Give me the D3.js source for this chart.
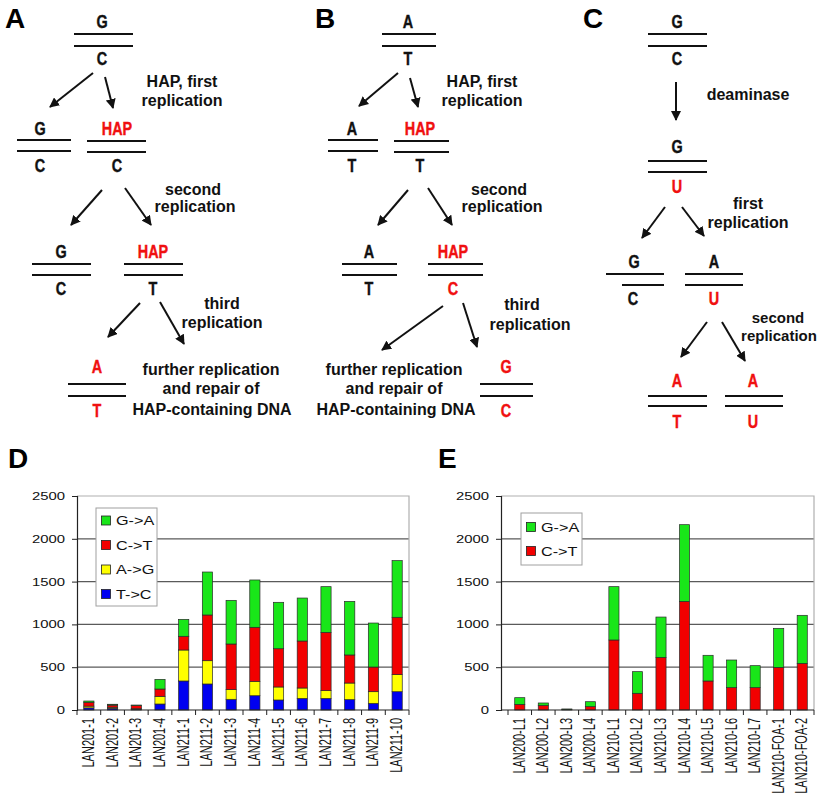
<!DOCTYPE html>
<html>
<head>
<meta charset="utf-8">
<script src="https://d3js.org/d3.v7.min.js"></script>
<style>
  body { margin: 0; background: #fff; }
  svg { display: block; font-family: "Liberation Sans", Arial, sans-serif; }
</style>
</head>
<body>
<svg id="fig" width="825" height="800"></svg>
<script>
// ---------------- DATA ----------------
const catsD = ["LAN201-1","LAN201-2","LAN201-3","LAN201-4","LAN211-1","LAN211-2","LAN211-3",
               "LAN211-4","LAN211-5","LAN211-6","LAN211-7","LAN211-8","LAN211-9","LAN211-10"];
const dTC = [25, 20, 10, 70, 339, 304, 125, 167, 117, 136, 136, 121, 78, 214];   // T->C
const dAG = [20, 12, 5, 90, 362, 272, 113, 168, 152, 121, 90, 194, 136, 199];    // A->G
const dCT = [45, 25, 38, 85, 160, 534, 533, 631, 447, 549, 681, 328, 288, 670];  // C->T
const dGA = [15, 10, 5, 113, 198, 502, 510, 553, 542, 502, 534, 626, 514, 662];  // G->A

const catsE = ["LAN200-L1","LAN200-L2","LAN200-L3","LAN200-L4","LAN210-L1","LAN210-L2","LAN210-L3",
               "LAN210-L4","LAN210-L5","LAN210-L6","LAN210-L7","LAN210-FOA-1","LAN210-FOA-2"];
const eCT = [66, 55, 8, 39, 818, 195, 615, 1269, 339, 261, 261, 498, 545];       // C->T
const eGA = [78, 27, 4, 58, 623, 253, 471, 896, 300, 323, 257, 456, 561];        // G->A

const yTicks = [0, 500, 1000, 1500, 2000, 2500];
const seriesD = ["T->C", "A->G", "C->T", "G->A"];
const seriesE = ["C->T", "G->A"];
const colors = {"G->A": "#19e619", "C->T": "#f20000", "A->G": "#ffff00", "T->C": "#0000f0"};

// ---------------- HELPERS ----------------
const svg = d3.select("#fig");
svg.append("rect").attr("width", 825).attr("height", 800).attr("fill", "#fff");

const defs = svg.append("defs");
defs.append("marker").attr("id", "arr").attr("viewBox", "0 0 10 10")
  .attr("refX", 9).attr("refY", 5).attr("markerWidth", 5).attr("markerHeight", 5)
  .attr("orient", "auto")
  .append("path").attr("d", "M0,0 L10,5 L0,10 Z").attr("fill", "#111");

function txt(g, x, y, s, o = {}) {
  const t = g.append("text")
    .attr("transform", `translate(${x},${y}) scale(${o.sx || 1},1)`)
    .attr("text-anchor", o.anchor || "middle")
    .attr("font-size", o.size || 16)
    .attr("font-weight", o.weight || "bold")
    .attr("fill", o.fill || "#111")
    .text(s);
  if (o.heavy) t.attr("stroke", o.fill || "#111").attr("stroke-width", o.heavy);
  return t;
}

// ---------------- DIAGRAMS (A, B, C) ----------------
const dg = svg.append("g");
const RED = "#f01010";
const letter = (x, y, s, red) => txt(dg, x, y, s, {size: 18, sx: 0.8, heavy: 0.4, fill: red ? RED : "#111"});
const label = (x, y, s, sz) => txt(dg, x, y, s, {size: sz || 16});
const panel = (x, y, s) => txt(svg, x, y, s, {size: 28, anchor: "start", fill: "#000"});
const hline = (x1, x2, y) => dg.append("line").attr("x1", x1).attr("x2", x2).attr("y1", y).attr("y2", y)
  .attr("stroke", "#111").attr("stroke-width", 2);
const arrow = (x1, y1, x2, y2) => dg.append("line").attr("x1", x1).attr("y1", y1).attr("x2", x2).attr("y2", y2)
  .attr("stroke", "#111").attr("stroke-width", 2).attr("marker-end", "url(#arr)");
function pair(cx, x1, x2, top, bot, yTop, ly1, ly2, yBot, redTop, redBot) {
  letter(cx, yTop, top, redTop);
  hline(x1, x2, ly1); hline(x1, x2, ly2);
  letter(cx, yBot, bot, redBot);
}

// Panel A
panel(5, 28, "A");
pair(102, 74, 133, "G", "C", 28, 34, 46, 65);
arrow(93, 73, 50, 107); arrow(105, 77, 113, 108);
label(182, 87, "HAP, first"); label(182, 106, "replication");
pair(40, 17, 71, "G", "C", 135, 140, 151, 172);
pair(117, 87, 146, "HAP", "C", 135, 141, 152, 172, true, false);
arrow(102, 190, 71, 225); arrow(125, 188, 151, 225);
label(193, 195, "second"); label(195, 212, "replication");
pair(61, 32, 91, "G", "C", 258, 264, 275, 295);
pair(153, 124, 183, "HAP", "T", 258, 264, 275, 295, true, false);
arrow(140, 303, 108, 337); arrow(160, 302, 184, 344);
label(222, 309, "third"); label(222, 328, "replication");
pair(97, 68, 126, "A", "T", 373, 384, 396, 417, true, true);
label(211, 375, "further replication"); label(211, 394, "and repair of"); label(212, 415, "HAP-containing DNA");

// Panel B
panel(315, 28, "B");
pair(408, 382, 436, "A", "T", 28, 34, 46, 65);
arrow(398, 73, 359, 106); arrow(410, 78, 418, 107);
label(482, 87, "HAP, first"); label(482, 106, "replication");
pair(352, 328, 378, "A", "T", 135, 140, 151, 172);
pair(420, 394, 449, "HAP", "T", 135, 141, 152, 172, true, false);
arrow(408, 190, 378, 225); arrow(428, 188, 452, 225);
label(499, 195, "second"); label(502, 212, "replication");
pair(369, 342, 397, "A", "T", 258, 264, 275, 295);
pair(453, 428, 483, "HAP", "C", 258, 264, 275, 295, true, true);
arrow(443, 306, 382, 350); arrow(463, 303, 477, 347);
label(522, 310, "third"); label(530, 330, "replication");
label(394, 375, "further replication"); label(394, 394, "and repair of"); label(396, 415, "HAP-containing DNA");
pair(506, 480, 533, "G", "C", 373, 384, 396, 417, true, true);

// Panel C
panel(583, 28, "C");
pair(677, 648, 707, "G", "C", 28, 34, 46, 65);
arrow(676, 82, 676, 120);
label(748, 100, "deaminase");
pair(677, 648, 707, "G", "U", 153, 161, 172, 193, false, true);
arrow(665, 207, 642, 238); arrow(682, 207, 704, 236);
label(748, 209, "first"); label(748, 228, "replication");
letter(634, 268, "G"); hline(606, 664, 274); hline(622, 664, 285); letter(633, 305, "C");
pair(714, 685, 743, "A", "U", 268, 274, 285, 305, false, true);
arrow(707, 322, 681, 357); arrow(722, 322, 745, 361);
label(778, 323, "second", 15); label(779, 341, "replication", 15);
pair(677, 648, 707, "A", "T", 387, 396, 406, 428, true, true);
pair(753, 725, 783, "A", "U", 387, 396, 406, 428, true, true);

// ---------------- BAR CHARTS (D, E) ----------------
const y = d3.scaleLinear().domain([0, 2500]).range([710, 496]);

function chart(cats, seriesNames, seriesVals, opt) {
  const g = svg.append("g");
  const x = d3.scaleBand().domain(cats).range([opt.bandL, opt.right])
    .paddingInner(0.57).paddingOuter(0.285);
  // grid and border
  g.selectAll(".grid").data(yTicks.filter(t => t > 0 && t < 2500)).join("line")
    .attr("x1", opt.axisX).attr("x2", opt.right).attr("y1", d => y(d)).attr("y2", d => y(d))
    .attr("stroke", "#5a5a5a").attr("stroke-width", 1.2);
  g.append("path").attr("d", `M${opt.axisX},${y(2500)}H${opt.right}V${y(0)}`)
    .attr("fill", "none").attr("stroke", "#b0b0b0").attr("stroke-width", 1.2);
  // stacked bars
  const rows = cats.map((c, i) => {
    const r = {cat: c};
    seriesNames.forEach((s, k) => r[s] = seriesVals[k][i]);
    return r;
  });
  const stack = d3.stack().keys(seriesNames)(rows);
  g.selectAll(".layer").data(stack).join("g").attr("fill", d => colors[d.key])
    .selectAll("rect").data(d => d).join("rect")
    .attr("x", d => x(d.data.cat)).attr("width", x.bandwidth())
    .attr("y", d => y(d[1])).attr("height", d => y(d[0]) - y(d[1]))
    .attr("stroke", "#2a2a2a").attr("stroke-width", 0.7);
  // y axis
  const ya = g.append("g").attr("transform", `translate(${opt.axisX},0)`)
    .call(d3.axisLeft(y).tickValues(yTicks).tickSize(5).tickFormat(d3.format("d")));
  ya.select(".domain").attr("stroke", "#222").attr("stroke-width", 1.2);
  ya.selectAll(".tick line").attr("stroke", "#222");
  ya.selectAll(".tick text").remove();
  yTicks.forEach(t => {
    g.append("text").attr("transform", `translate(${opt.axisX - 12},${y(t) + 4}) scale(1.35,1)`)
      .attr("text-anchor", "end").attr("font-size", 11).attr("fill", "#111").text(t);
  });
  // x axis
  g.append("line").attr("x1", opt.axisX).attr("x2", opt.right).attr("y1", y(0)).attr("y2", y(0))
    .attr("stroke", "#222").attr("stroke-width", 1.2);
  const bounds = cats.map(c => x(c) - x.step() * 0.285).concat([opt.right]);
  g.selectAll(".xt").data(bounds).join("line")
    .attr("x1", d => d).attr("x2", d => d).attr("y1", y(0)).attr("y2", y(0) + 5)
    .attr("stroke", "#222").attr("stroke-width", 1);
  cats.forEach(c => {
    g.append("text")
      .attr("transform", `translate(${x(c) + x.bandwidth() / 2 + 5},${y(0) + 8}) rotate(-90) scale(1,1.45)`)
      .attr("text-anchor", "end").attr("font-size", 11).attr("fill", "#111").text(c);
  });
  // legend
  const lg = g.append("g");
  lg.append("rect").attr("x", opt.leg[0]).attr("y", opt.leg[1]).attr("width", opt.leg[2]).attr("height", opt.leg[3])
    .attr("fill", "#fff").attr("stroke", "#a0a0a0").attr("stroke-width", 1);
  seriesNames.slice().reverse().forEach((s, i) => {
    const cy = opt.leg[1] + opt.legFirst + i * opt.legStep;
    lg.append("rect").attr("x", opt.leg[0] + 5.5).attr("y", cy - 4.5).attr("width", 9).attr("height", 9)
      .attr("fill", colors[s]).attr("stroke", "#222").attr("stroke-width", 0.8);
    lg.append("text").attr("transform", `translate(${opt.leg[0] + 20},${cy + 4.5}) scale(1.35,1)`)
      .attr("font-size", 12).attr("fill", "#111").text(s);
  });
}

panel(8, 468, "D");
chart(catsD, seriesD, [dTC, dAG, dCT, dGA],
  {axisX: 77, bandL: 77, right: 409, leg: [96, 508, 61, 98], legFirst: 12.5, legStep: 24.5});

panel(438, 468, "E");
chart(catsE, seriesE, [eCT, eGA],
  {axisX: 501, bandL: 508, right: 814, leg: [521, 513, 61, 52], legFirst: 14, legStep: 24});
</script>
</body>
</html>
